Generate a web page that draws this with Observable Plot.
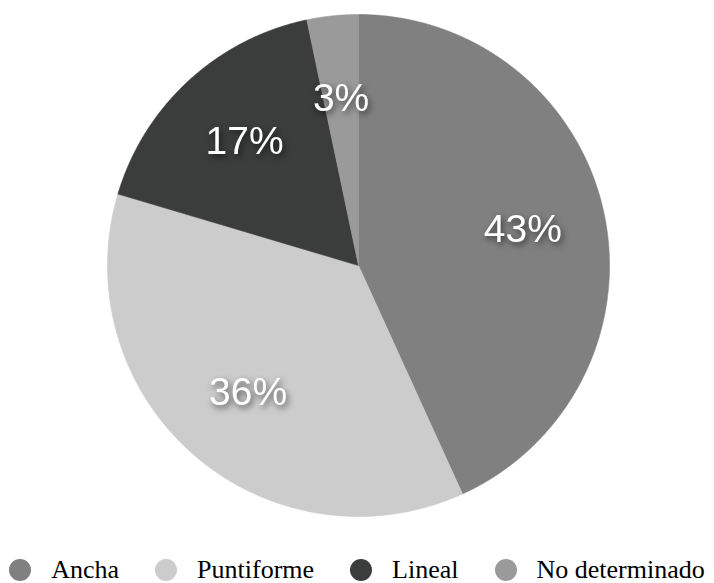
<!DOCTYPE html>
<html>
<head>
<meta charset="utf-8">
<script src="https://cdn.jsdelivr.net/npm/d3@7"></script>
<script src="https://cdn.jsdelivr.net/npm/@observablehq/plot@0.6"></script>
<style>
  html, body { margin: 0; padding: 0; background: #fff; }
  #chart { width: 714px; }
  .legend { display: flex; justify-content: center; align-items: center; height: 50px; width: 714px;
    font-family: "Liberation Serif", "Times New Roman", serif; font-size: 26px; color: #000; }
  .legend .item { display: flex; align-items: center; margin: 0 18px; }
  .legend .item:first-child { margin-left: 0; }
  .legend .item:last-child { margin-right: 0; }
  .legend .sw { width: 22px; height: 22px; border-radius: 50%; margin-right: 20px; }
</style>
</head>
<body>
<div id="chart"></div>
<script>
const categories = ["Ancha", "Puntiforme", "Lineal", "No determinado"];
const shares = [43.2, 36.4, 17.1, 3.3];
const palette = ["#808080", "#cbcccb", "#3b3c3c", "#9a9a9a"];

const rows = categories.map((c, i) => ({category: c, value: shares[i]}));
const arcs = d3.pie().sort(null).value(d => d.value).startAngle(0).endAngle(2 * Math.PI)(rows);

// polygon outlines of slices in unit-circle coordinates (y up)
const step = Math.PI / 720;
const outline = [];
for (const a of arcs) {
  const key = a.data.category;
  outline.push({key, x: 0, y: 0});
  const n = Math.max(2, Math.ceil((a.endAngle - a.startAngle) / step));
  for (let k = 0; k <= n; k++) {
    const t = a.startAngle + (a.endAngle - a.startAngle) * k / n;
    outline.push({key, x: Math.sin(t), y: Math.cos(t)});
  }
  outline.push({key, x: 0, y: 0});
}
const labelR = 0.67;
const labels = arcs.map(a => {
  const m = (a.startAngle + a.endAngle) / 2;
  return {key: a.data.category, x: labelR * Math.sin(m), y: labelR * Math.cos(m),
          text: Math.round(a.data.value) + "%"};
});

const plot = Plot.plot({
  width: 714,
  height: 545,
  marginLeft: 107,
  marginRight: 105,
  marginTop: 14,
  marginBottom: 29,
  x: {domain: [-1, 1], axis: null},
  y: {domain: [-1, 1], axis: null},
  color: {type: "ordinal", domain: categories, range: palette},
  style: {background: "white", overflow: "visible"},
  marks: [
    Plot.line(outline, {x: "x", y: "y", z: "key", fill: "key", stroke: "key", strokeWidth: 0.6, curve: "linear"}),
    Plot.text(labels, {x: "x", y: "y", text: "text", fill: "white", fontSize: 39,
      fontFamily: "'Helvetica Neue', Helvetica, 'Liberation Sans', Arial, sans-serif", lineAnchor: "middle", textAnchor: "middle"})
  ]
});
plot.querySelectorAll("text").forEach(t => {
  t.style.filter = "drop-shadow(2px 3px 3px rgba(0,0,0,0.6))";
});
document.getElementById("chart").appendChild(plot);

const legend = document.createElement("div");
legend.className = "legend";
categories.forEach((c, i) => {
  const item = document.createElement("div");
  item.className = "item";
  const sw = document.createElement("span");
  sw.className = "sw";
  sw.style.background = palette[i];
  const lab = document.createElement("span");
  lab.textContent = c;
  item.appendChild(sw);
  item.appendChild(lab);
  legend.appendChild(item);
});
document.getElementById("chart").appendChild(legend);
</script>
</body>
</html>
